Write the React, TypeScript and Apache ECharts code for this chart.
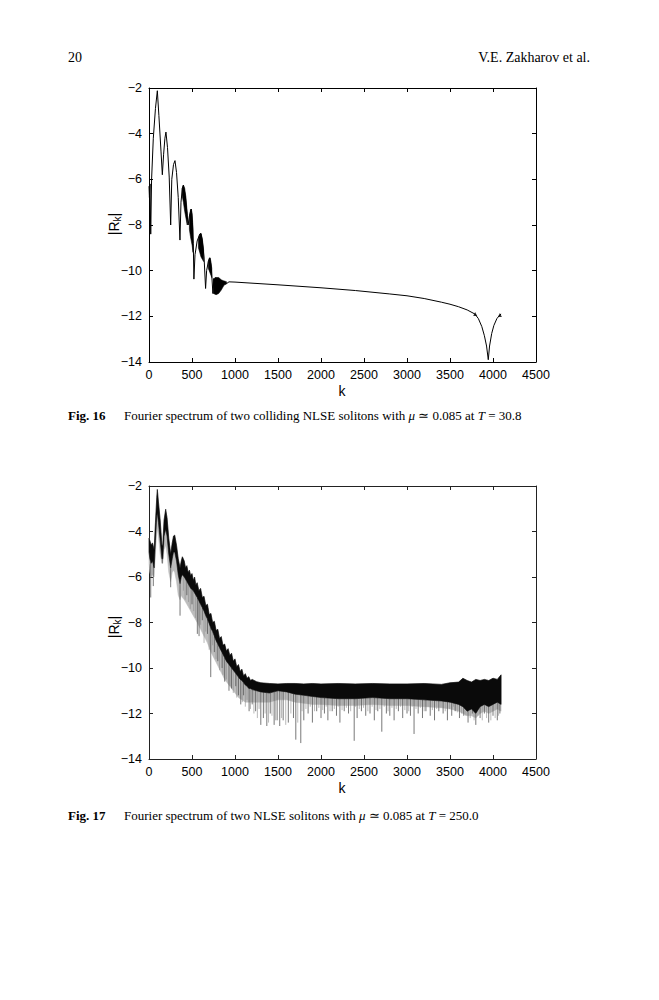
import React, { useEffect, useRef } from "react";
import * as echarts from "echarts";

// ---------- Fig. 16 data ----------
const main1K = [0, 5, 12, 20, 30, 50, 75, 97, 115, 140, 155, 170, 185, 197, 215, 235, 252, 265, 285, 302, 320, 340, 360, 372, 388, 400, 420, 440, 455, 470, 490, 505, 515, 522, 535, 560, 590, 604, 620, 640, 658, 670, 690, 708, 725, 743, 755, 765, 775, 785, 795, 805, 815, 825, 840, 855, 870, 890, 930, 1000, 1500, 2000, 2400, 2800, 3000, 3200, 3400, 3500, 3600, 3700, 3790, 3830, 3870, 3900, 3925, 3945, 3960, 3985, 4010, 4045, 4080, 4094];
const main1V = [-6.3, -6.8, -6.2, -8.4, -6.0, -4.2, -2.9, -2.12, -3.2, -4.8, -5.8, -4.9, -4.2, -3.93, -4.6, -5.9, -8.0, -6.0, -5.35, -5.18, -5.7, -6.8, -8.66, -7.0, -6.4, -6.25, -6.7, -7.4, -8.0, -7.6, -7.3, -7.9, -8.8, -10.37, -9.3, -8.7, -8.4, -8.37, -8.7, -9.4, -10.78, -10.0, -9.6, -9.44, -9.9, -11.0, -10.35, -10.95, -10.3, -11.0, -10.35, -10.9, -10.4, -10.8, -10.45, -10.7, -10.45, -10.6, -10.49, -10.5, -10.62, -10.75, -10.87, -11.02, -11.1, -11.22, -11.38, -11.47, -11.58, -11.72, -11.9, -12.1, -12.45, -12.85, -13.3, -13.9, -13.3, -12.75, -12.4, -12.1, -11.94, -11.9];
const band1K = [385, 400, 415, 430, 445, null, 470, 482, 492, 502, 512, null, 575, 590, 605, 620, 635, null, 690, 700, 710, 720, 730, null, 750, 780, 810, 840, 870, 900];
const band1Hi = [-6.4, -6.25, -6.4, -6.8, -7.5, null, -7.7, -7.35, -7.3, -7.5, -8.2, null, -8.6, -8.4, -8.37, -8.6, -9.1, null, -9.6, -9.45, -9.44, -9.6, -9.9, null, -10.35, -10.3, -10.3, -10.4, -10.45, -10.48];
const band1Lo = [-6.7, -7.0, -7.4, -7.7, -8.0, null, -8.2, -8.5, -8.7, -8.9, -9.2, null, -9.0, -9.2, -9.4, -9.5, -9.6, null, -9.9, -10.0, -10.1, -10.2, -10.3, null, -11.0, -11.05, -11.0, -10.85, -10.65, -10.55];
const marks1K = [3793, 4080];
const marks1V = [-11.9, -11.94];

// ---------- Fig. 17 data ----------
const k2 = [0, 10, 25, 40, 60, 75, 90, 97, 110, 130, 150, 160, 175, 194, 210, 230, 252, 270, 285, 299, 320, 340, 361, 375,
  388, 410, 425, 440, 455, 470, 485, 500, 515, 530, 545, 560, 580, 600, 620, 640, 660, 680, 700, 720, 740, 760, 780, 800, 820, 840, 860, 880, 900, 920, 940, 960, 980, 1000, 1020, 1040, 1060, 1080, 1100, 1120, 1140, 1160, 1180, 1200,
  1250, 1300, 1400, 1500, 1600, 1700, 1800, 1900, 2000, 2200, 2400, 2600, 2800, 3000, 3200, 3400, 3500, 3600, 3650, 3700, 3750, 3800, 3850, 3900, 3950, 4000, 4050, 4094];
const hi2 = [-4.3, -4.4, -4.6, -4.5, -4.8, -3.6, -2.5, -2.15, -2.7, -3.5, -4.6, -4.6, -3.5, -3.02, -3.4, -4.3, -5.0, -4.5, -4.2, -4.16, -4.6, -5.2, -5.6, -5.3,
  -5.11, -5.3, -5.6, -5.5, -5.8, -5.7, -5.95, -5.85, -6.15, -6.0, -6.35, -6.25, -6.6, -6.5, -6.9, -6.85, -7.25, -7.2, -7.65, -7.6, -8.0, -7.95, -8.35, -8.3, -8.7, -8.62, -9.0, -8.95, -9.25, -9.15, -9.45, -9.35, -9.7, -9.6, -9.95, -9.85, -10.15, -10.05, -10.35, -10.25, -10.45, -10.38, -10.55, -10.5,
  -10.6, -10.65, -10.68, -10.7, -10.68, -10.68, -10.7, -10.68, -10.7, -10.68, -10.7, -10.68, -10.7, -10.7, -10.68, -10.72, -10.65, -10.62, -10.45, -10.55, -10.62, -10.5, -10.55, -10.5, -10.55, -10.45, -10.5, -10.3];
const lo2 = [-4.9, -5.2, -5.4, -5.3, -5.6, -4.4, -3.3, -3.2, -3.6, -4.4, -5.2, -5.2, -4.2, -3.9, -4.2, -5.0, -5.6, -5.2, -4.9, -4.9, -5.3, -5.9, -6.3, -6.0,
  -5.9, -6.0, -6.1, -6.2, -6.3, -6.4, -6.5, -6.55, -6.6, -6.7, -6.8, -6.9, -7.05, -7.2, -7.35, -7.5, -7.7, -7.85, -8.05, -8.25, -8.4, -8.6, -8.8, -8.95, -9.1, -9.25, -9.4, -9.55, -9.7, -9.8, -9.9, -10.0, -10.1, -10.2, -10.3, -10.4, -10.5, -10.55, -10.65, -10.75, -10.8, -10.9, -10.9, -10.95,
  -11.0, -11.05, -11.1, -11.0, -11.05, -11.15, -11.2, -11.25, -11.3, -11.35, -11.35, -11.3, -11.35, -11.35, -11.4, -11.45, -11.5, -11.6, -11.7, -11.9, -11.8, -12.0, -11.7, -11.6, -11.7, -11.6, -11.5, -11.6];
const fr2 = [-5.4, -5.8, -6.0, -5.9, -6.0, -5.0, -4.0, -3.9, -4.2, -5.0, -5.4, -5.4, -4.8, -4.6, -5.0, -5.8, -6.2, -5.8, -5.7, -5.8, -6.2, -6.8, -7.0, -6.8,
  -6.9, -7.0, -7.1, -7.2, -7.3, -7.4, -7.5, -7.6, -7.7, -7.8, -7.9, -8.0, -8.15, -8.3, -8.45, -8.6, -8.75, -8.9, -9.1, -9.3, -9.45, -9.6, -9.75, -9.9, -10.05, -10.2, -10.35, -10.5, -10.6, -10.7, -10.8, -10.9, -11.0, -11.1, -11.2, -11.3, -11.35, -11.4, -11.45, -11.5, -11.5, -11.5, -11.5, -11.5,
  -11.5, -11.5, -11.5, -11.4, -11.4, -11.5, -11.55, -11.6, -11.6, -11.65, -11.65, -11.6, -11.65, -11.65, -11.7, -11.75, -11.8, -11.9, -12.0, -12.1, -12.1, -12.2, -12.0, -11.9, -12.0, -11.9, -11.8, -11.9];
const spike2K = [20, 50, 155, 252, 361, 440, 500, 562, 582, 620, 680, 718, 760, 800, 850, 880, 930, 960, 1009, 1040, 1067, 1100, 1164, 1200, 1240, 1300, 1330, 1370, 1410, 1455, 1490, 1520, 1560, 1620, 1680, 1707, 1765, 1800, 1850, 1900, 1950, 2000, 2040, 2080, 2130, 2180, 2220, 2270, 2320, 2386, 2420, 2470, 2520, 2570, 2620, 2660, 2707, 2760, 2800, 2850, 2900, 2950, 3000, 3040, 3082, 3130, 3180, 3220, 3270, 3320, 3370, 3420, 3470, 3520, 3560, 3610, 3660, 3710, 3760, 3800, 3850, 3900, 3950, 4000, 4050, 4080];
const spike2V = [-6.9, -6.4, -5.4, -6.45, -7.7, -6.8, -7.2, -8.5, -8.6, -7.9, -8.5, -10.4, -9.3, -9.7, -10.0, -10.6, -11.0, -10.9, -10.8, -11.2, -11.6, -11.2, -11.9, -11.6, -11.9, -12.5, -12.2, -12.55, -12.0, -12.5, -12.3, -12.55, -12.3, -12.4, -12.2, -13.15, -13.3, -12.3, -12.0, -12.4, -11.9, -12.2, -12.0, -12.3, -11.9, -12.1, -12.4, -11.9, -12.0, -13.2, -12.2, -11.9, -12.1, -12.0, -12.3, -11.9, -12.8, -12.0, -12.1, -12.3, -11.9, -12.2, -12.0, -12.1, -12.9, -12.0, -12.2, -11.9, -12.1, -12.3, -11.9, -12.0, -12.3, -12.1, -11.9, -12.2, -12.1, -12.4, -12.0, -12.5, -12.2, -12.0, -12.4, -12.1, -12.3, -12.0];
const fine2K = [400, 420, 460, 480, 520, 540, 600, 640, 660, 700, 740, 780, 820, 860, 900, 945, 980, 1020, 1085, 1120, 1140, 1180, 1220, 1260, 1280, 1350, 1390, 1430, 1470, 1540, 1590, 1650, 1730, 1780, 1825, 1875, 1925, 1975, 2020, 2060, 2105, 2155, 2200, 2245, 2295, 2345, 2400, 2445, 2495, 2545, 2595, 2640, 2685, 2735, 2780, 2825, 2875, 2925, 2975, 3020, 3060, 3105, 3155, 3200, 3245, 3295, 3345, 3395, 3445, 3495, 3540, 3585, 3635, 3685, 3735, 3780, 3825, 3875, 3925, 3975, 4025, 4065];
const fine2V = [-6.6, -7.0, -7.1, -7.4, -7.5, -7.8, -8.1, -8.9, -8.4, -9.2, -9.0, -9.6, -10.1, -10.3, -10.5, -10.8, -11.1, -11.3, -11.5, -11.7, -11.4, -11.8, -12.0, -12.2, -11.8, -12.0, -12.4, -12.1, -12.3, -12.2, -12.5, -12.0, -12.4, -11.9, -11.8, -11.7, -11.9, -11.75, -11.85, -11.7, -11.9, -11.8, -11.7, -11.85, -11.75, -11.9, -11.7, -11.8, -11.75, -11.9, -11.7, -11.85, -11.8, -11.7, -11.9, -11.75, -11.8, -11.7, -11.85, -11.9, -11.7, -11.8, -11.75, -11.9, -11.7, -11.85, -11.8, -11.75, -11.9, -11.8, -11.7, -11.95, -12.0, -12.1, -12.2, -12.3, -12.1, -12.3, -12.2, -12.3, -12.2, -12.1];

// ---------- axes ----------
const xTicks = [0, 500, 1000, 1500, 2000, 2500, 3000, 3500, 4000, 4500];
const yTicks = [-14, -12, -10, -8, -6, -4, -2];

const SANS = '"Liberation Sans", Arial, sans-serif';
const SERIF = '"Liberation Serif", "Times New Roman", serif';

function interp(ks: number[], vs: number[], k: number) {
  if (k <= ks[0]) return vs[0];
  for (let i = 1; i < ks.length; i++) {
    if (k <= ks[i]) {
      const t = (k - ks[i - 1]) / (ks[i] - ks[i - 1]);
      return vs[i - 1] + t * (vs[i] - vs[i - 1]);
    }
  }
  return vs[vs.length - 1];
}

function polyPoints(api: any, ks: any[], top: any[], bot: any[]) {
  const pts: number[][] = [];
  for (let i = 0; i < ks.length; i++) pts.push(api.coord([ks[i], top[i]]));
  for (let i = ks.length - 1; i >= 0; i--) pts.push(api.coord([ks[i], bot[i]]));
  return pts;
}

function splitSegments(ks: any[], a: any[], b: any[]) {
  const segs: { k: number[]; a: number[]; b: number[] }[] = [];
  let cur = { k: [] as number[], a: [] as number[], b: [] as number[] };
  for (let i = 0; i < ks.length; i++) {
    if (ks[i] === null) {
      if (cur.k.length) segs.push(cur);
      cur = { k: [], a: [], b: [] };
    } else {
      cur.k.push(ks[i]);
      cur.a.push(a[i]);
      cur.b.push(b[i]);
    }
  }
  if (cur.k.length) segs.push(cur);
  return segs;
}

function mkX(grid: number, position: string, labels: boolean, color: string) {
  return {
    type: "value",
    gridIndex: grid,
    position,
    min: xTicks[0],
    max: xTicks[xTicks.length - 1],
    interval: 500,
    axisLine: { show: true, onZero: false, lineStyle: { color, width: 1 } },
    axisTick: { show: true, inside: true, length: 4, lineStyle: { color, width: 1 } },
    axisLabel: {
      show: labels,
      margin: 6,
      fontFamily: SANS,
      fontSize: 12.5,
      color: "#000",
      formatter: (v: number) => String(v),
    },
    splitLine: { show: false },
  };
}

function mkY(grid: number, position: string, labels: boolean, color: string) {
  return {
    type: "value",
    gridIndex: grid,
    position,
    min: yTicks[0],
    max: yTicks[yTicks.length - 1],
    interval: 2,
    axisLine: { show: true, onZero: false, lineStyle: { color, width: 1 } },
    axisTick: { show: true, inside: true, length: 4, lineStyle: { color, width: 1 } },
    axisLabel: {
      show: labels,
      margin: 7,
      fontFamily: SANS,
      fontSize: 12.5,
      color: "#000",
      formatter: (v: number) => (v < 0 ? "\u2212" + Math.abs(v) : String(v)),
    },
    splitLine: { show: false },
  };
}

function txt(x: number, y: number, text: string, font: string, align = "left") {
  return {
    type: "text",
    x,
    y,
    style: {
      text,
      font,
      fill: "#000",
      textAlign: align,
      align,
      textVerticalAlign: "middle",
      verticalAlign: "middle",
    },
  };
}

export default function App() {
  const ref = useRef<HTMLDivElement>(null);
  useEffect(() => {
    if (!ref.current) return;
    const chart = echarts.init(ref.current, undefined, { renderer: "svg" });

    const rk = (x: number, y: number) => ({
      type: "text",
      x,
      y,
      rotation: Math.PI / 2,
      style: {
        text: "|R{s|k}|",
        font: `14px ${SANS}`,
        fill: "#000",
        textAlign: "center",
        align: "center",
        textVerticalAlign: "middle",
        verticalAlign: "middle",
        rich: {
          s: { fontSize: 10, fontFamily: SANS, fill: "#000", verticalAlign: "bottom", padding: [6, 0, 0, 0] },
        },
      },
    });

    const caption = (y: number, fig: string, body: string) => [
      txt(68, y, fig, `bold 13px ${SERIF}`),
      {
        type: "text",
        x: 124,
        y,
        style: {
          text: body,
          font: `13px ${SERIF}`,
          fill: "#000",
          textAlign: "left",
          align: "left",
          textVerticalAlign: "middle",
          verticalAlign: "middle",
          rich: {
            i: { fontSize: 13, fontFamily: SERIF, fontStyle: "italic", fill: "#000" },
          },
        },
      },
    ];

    const spikeRender = (color: string, width: number) => (params: any, api: any) => {
      const k = api.value(0);
      const d = api.value(1);
      const top = api.coord([k, interp(k2, lo2, k)]);
      const bot = api.coord([k, d]);
      return {
        type: "line",
        shape: { x1: top[0], y1: top[1], x2: bot[0], y2: bot[1] },
        style: { stroke: color, lineWidth: width },
      };
    };

    const option: any = {
      animation: false,
      backgroundColor: "#fff",
      grid: [
        { left: 149, top: 88, width: 387, height: 274 },
        { left: 149, top: 486, width: 387, height: 273 },
      ],
      xAxis: [
        mkX(0, "bottom", true, "#000"),
        mkX(0, "top", false, "#000"),
        mkX(1, "bottom", true, "#222"),
        mkX(1, "top", false, "#222"),
      ],
      yAxis: [
        mkY(0, "left", true, "#000"),
        mkY(0, "right", false, "#000"),
        mkY(1, "left", true, "#222"),
        mkY(1, "right", false, "#222"),
      ],
      series: [
        {
          type: "custom",
          xAxisIndex: 0,
          yAxisIndex: 0,
          data: [[0, -2]],
          silent: true,
          renderItem: (params: any, api: any) => ({
            type: "group",
            children: splitSegments(band1K, band1Hi, band1Lo).map((s) => ({
              type: "polygon",
              shape: { points: polyPoints(api, s.k, s.a, s.b) },
              style: { fill: "#000", stroke: "#000", lineWidth: 0.6 },
            })),
          }),
        },
        {
          type: "line",
          xAxisIndex: 0,
          yAxisIndex: 0,
          data: main1K.map((k, i) => [k, main1V[i]]),
          showSymbol: false,
          symbol: "none",
          lineStyle: { color: "#000", width: 1 },
          silent: true,
        },
        {
          type: "scatter",
          xAxisIndex: 0,
          yAxisIndex: 0,
          data: marks1K.map((k, i) => [k, marks1V[i]]),
          symbol: "triangle",
          symbolSize: 4,
          itemStyle: { color: "#000" },
          silent: true,
        },
        {
          type: "custom",
          xAxisIndex: 2,
          yAxisIndex: 2,
          data: [[0, -2]],
          silent: true,
          renderItem: (params: any, api: any) => ({
            type: "polygon",
            shape: { points: polyPoints(api, k2, hi2, fr2) },
            style: { fill: "#bdbdbd", stroke: "#bdbdbd", lineWidth: 0.5 },
          }),
        },
        {
          type: "custom",
          xAxisIndex: 2,
          yAxisIndex: 2,
          data: fine2K.map((k, i) => [k, fine2V[i]]),
          silent: true,
          renderItem: spikeRender("#8a8a8a", 0.6),
        },
        {
          type: "custom",
          xAxisIndex: 2,
          yAxisIndex: 2,
          data: spike2K.map((k, i) => [k, spike2V[i]]),
          silent: true,
          renderItem: spikeRender("#555", 0.8),
        },
        {
          type: "custom",
          xAxisIndex: 2,
          yAxisIndex: 2,
          data: [[0, -2]],
          silent: true,
          renderItem: (params: any, api: any) => ({
            type: "polygon",
            shape: { points: polyPoints(api, k2, hi2, lo2) },
            style: { fill: "#0a0a0a", stroke: "#0a0a0a", lineWidth: 0.6 },
          }),
        },
      ],
      graphic: [
        txt(68, 57, "20", `14px ${SERIF}`),
        txt(590, 57, "V.E. Zakharov et al.", `14px ${SERIF}`, "right"),
        rk(114, 224),
        rk(114, 627),
        txt(342, 391, "k", `14px ${SANS}`, "center"),
        txt(342, 788, "k", `14px ${SANS}`, "center"),
        ...caption(415, "Fig. 16", "Fourier spectrum of two colliding NLSE solitons with {i|\u03bc} \u2243 0.085 at {i|T} = 30.8"),
        ...caption(815, "Fig. 17", "Fourier spectrum of two NLSE solitons with {i|\u03bc} \u2243 0.085 at {i|T} = 250.0"),
      ],
    };
    chart.setOption(option);
    return () => chart.dispose();
  }, []);
  return (
    <div
      ref={ref}
      style={{ position: "absolute", left: 0, top: 0, width: 659, height: 1000, background: "#fff" }}
    />
  );
}
